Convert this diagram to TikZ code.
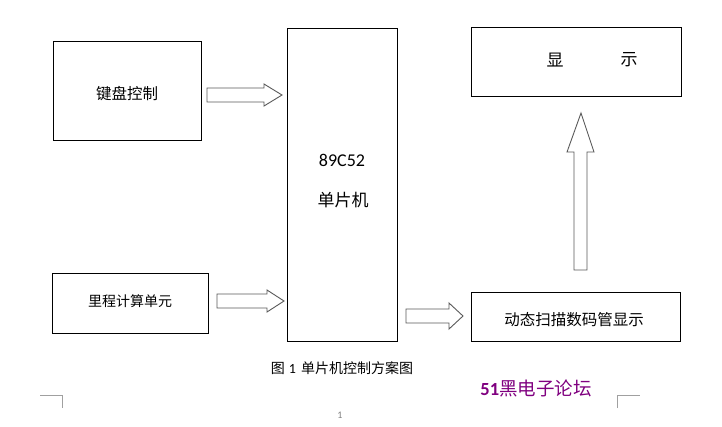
\documentclass[tikz,border=0pt]{standalone}
\usepackage{fontspec}
\setmainfont{Noto Sans CJK SC}
\newfontfamily\latinf{Carlito}
\definecolor{arrowgray}{HTML}{5A5A5A}
\definecolor{forum}{HTML}{800080}
\definecolor{pagegray}{HTML}{A0A0A0}
\begin{document}
\begin{tikzpicture}[x=1pt,y=-1pt,
  blockbox/.style={draw=black,line width=1pt,inner sep=0pt},
  blockarrow/.style={draw=arrowgray,fill=white,line width=0.9pt,line join=miter},
  lbl/.style={inner sep=0pt,anchor=center}]
\useasboundingbox (0,0) rectangle (722,426);
\fill[white] (0,0) rectangle (722,426);
% boxes
\draw[blockbox] (53,41) rectangle (201,140);
\draw[blockbox] (287,28) rectangle (397,341);
\draw[blockbox] (471,27) rectangle (681,96);
\draw[blockbox] (52,273) rectangle (208,333);
\draw[blockbox] (471,292) rectangle (680,341);
% labels
\node[lbl,font=\fontsize{15.5}{18}\selectfont] (kb) at (127,94) {键盘控制};
\node[lbl,font=\latinf\fontsize{18}{20}\selectfont] (mcu1) at (342,160) {89C52};
\node[lbl,font=\fontsize{17}{19}\selectfont] (mcu2) at (343,200) {单片机};
\node[lbl,font=\fontsize{17}{20}\selectfont] (d1) at (555,60) {显};
\node[lbl,font=\fontsize{17}{20}\selectfont] (d2) at (629,60) {示};
\node[lbl,font=\fontsize{14}{17}\selectfont] (lc) at (130,301) {里程计算单元};
\node[lbl,font=\fontsize{15.5}{18}\selectfont] (dyn) at (574,320) {动态扫描数码管显示};
% block arrows
\draw[blockarrow] (207,88) -- (264,88) -- (264,84) -- (282,95) -- (264,106) -- (264,102) -- (207,102) -- cycle;
\draw[blockarrow] (217,294) -- (267,294) -- (267,290) -- (284,301) -- (267,312) -- (267,308) -- (217,308) -- cycle;
\draw[blockarrow] (406,309) -- (449,309) -- (449,303) -- (463,316) -- (449,329) -- (449,323) -- (406,323) -- cycle;
\draw[blockarrow] (574,270) -- (574,152) -- (567,152) -- (581,113) -- (594,152) -- (587,152) -- (587,270) -- cycle;
% caption
\node[lbl,font=\fontsize{14}{16}\selectfont] (cap) at (342,368) {图\hspace{4pt}{\latinf 1}\hspace{5pt}单片机控制方案图};
\node[lbl,text=forum,font=\fontsize{18.5}{21}\selectfont] (forum) at (536,388) {{\latinf\bfseries 51}黑电子论坛};
% page marks
\draw[pagegray,line width=0.8pt] (40,395) -- (62,395) -- (62,408);
\draw[pagegray,line width=0.8pt] (617,408) -- (617,395) -- (640,395);
\node[lbl,text=gray,font=\latinf\fontsize{10}{12}\selectfont] (pg) at (340,415) {1};
\end{tikzpicture}
\end{document}
